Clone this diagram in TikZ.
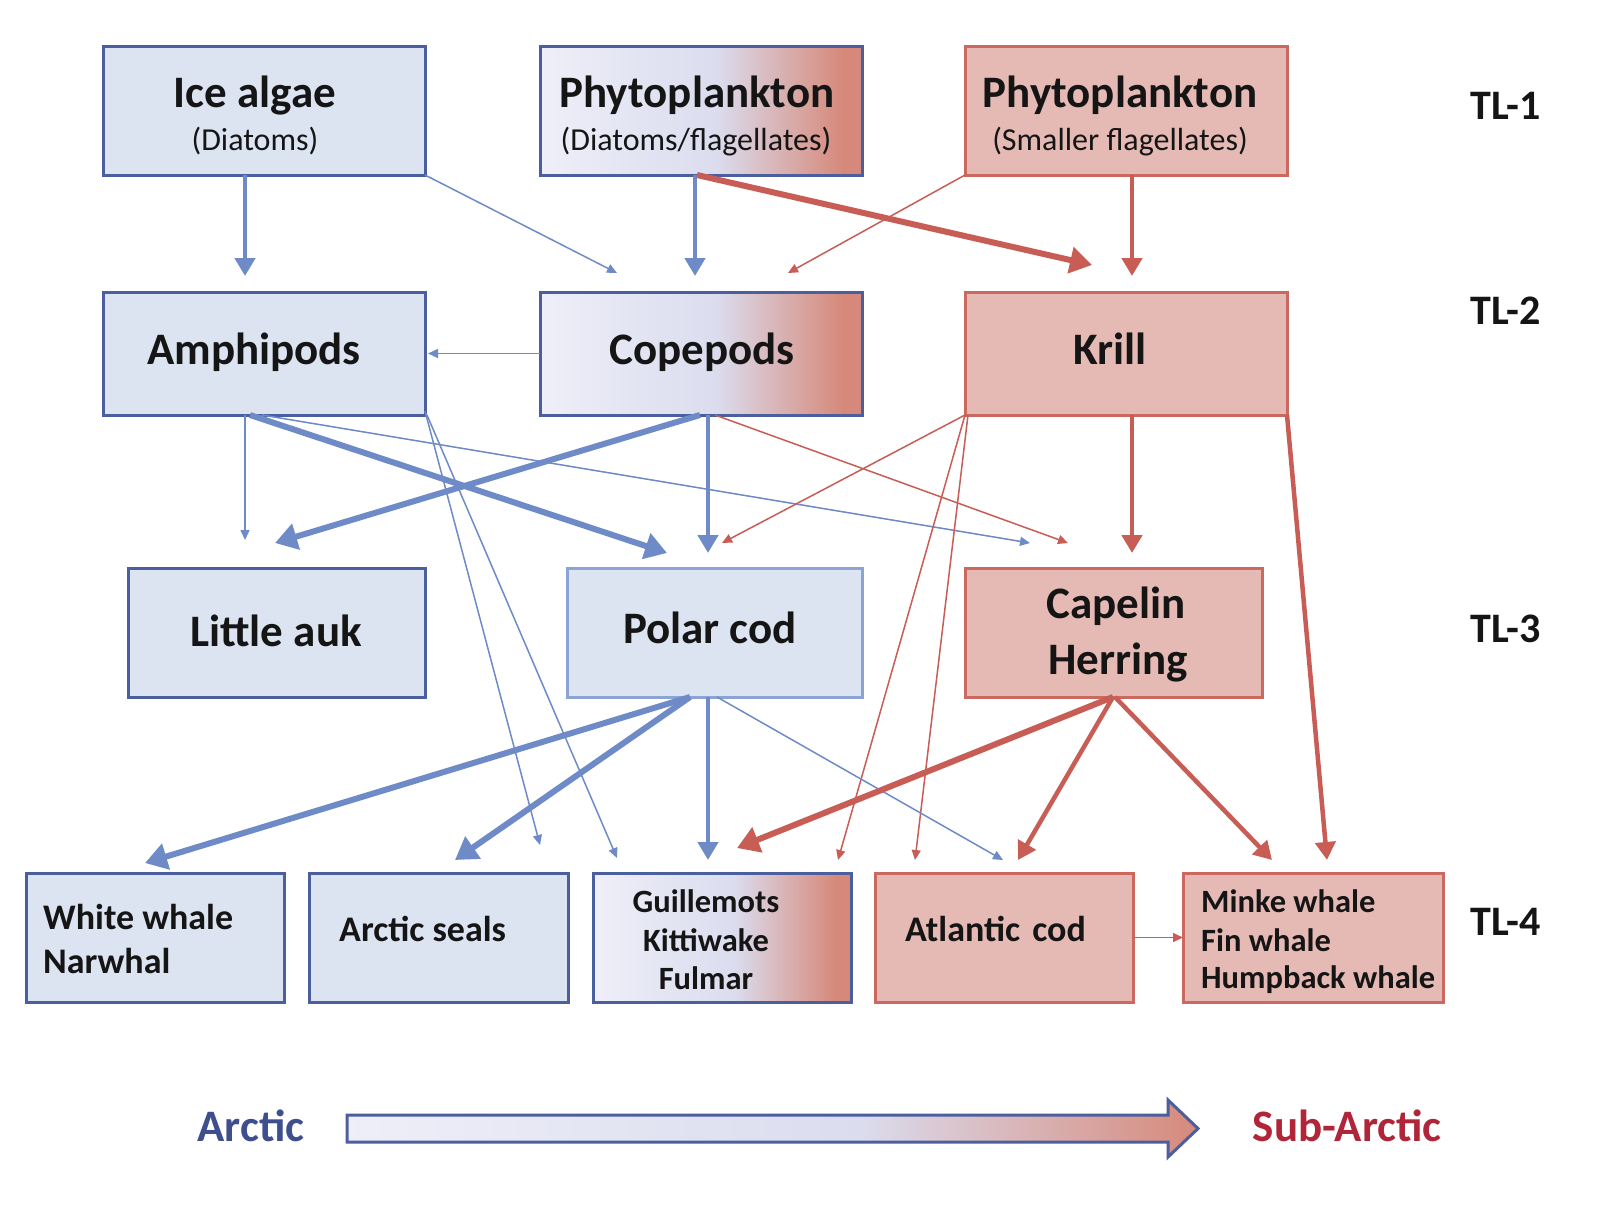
\documentclass[tikz,border=0pt]{standalone}
\usepackage{fontspec}
\setmainfont{Carlito}
\usetikzlibrary{arrows.meta,calc,backgrounds}

\definecolor{bfill}{HTML}{DCE3F1}
\definecolor{bline}{HTML}{4B5F9E}
\definecolor{bline2}{HTML}{8CA3D5}
\definecolor{barrow}{HTML}{6E8BC8}
\definecolor{rfill}{HTML}{E6BAB4}
\definecolor{rline}{HTML}{CB6860}
\definecolor{rarrow}{HTML}{C85D55}
\definecolor{gl}{HTML}{EEEFF8}
\definecolor{gm}{HTML}{DBDCEE}
\definecolor{gr}{HTML}{D6897A}
\definecolor{arcticc}{HTML}{3E4F8E}
\definecolor{subc}{HTML}{B02538}
\definecolor{txt}{HTML}{151515}

\tikzset{
  boxb/.style={draw=bline, fill=bfill, line width=3pt, inner sep=0pt, outer sep=0pt},
  boxr/.style={draw=rline, fill=rfill, line width=3pt, inner sep=0pt, outer sep=0pt},
  boxg/.style={draw=bline, line width=3pt, inner sep=0pt, outer sep=0pt},
  txtttl/.style={font=\fontsize{45}{54}\selectfont\bfseries, text=txt, anchor=base, inner sep=0pt},
  txtsub/.style={font=\fontsize{32}{38}\selectfont, text=txt, anchor=base, inner sep=0pt},
  txtsma/.style={font=\fontsize{36}{42}\selectfont\bfseries, text=txt, anchor=base west, inner sep=0pt},
  txtsmb/.style={font=\fontsize{32.5}{38}\selectfont\bfseries, text=txt, anchor=base, inner sep=0pt},
  txtsmbw/.style={txtsmb, anchor=base west},
  txttl/.style={font=\fontsize{42}{48}\selectfont\bfseries, text=txt, anchor=base, inner sep=0pt},
  bthin/.style={draw=barrow, line width=1.5pt, -{Triangle[length=10pt,width=9pt]}},
  bmed/.style={draw=barrow, line width=4.5pt, -{Triangle[length=18pt,width=20pt]}},
  bthick/.style={draw=barrow, line width=6pt, -{Triangle[length=22pt,width=26pt]}},
  rthin/.style={draw=rarrow, line width=1.5pt, -{Triangle[length=10pt,width=9pt]}},
  rmed/.style={draw=rarrow, line width=4.5pt, -{Triangle[length=18pt,width=20pt]}},
  rthick/.style={draw=rarrow, line width=6pt, -{Triangle[length=22pt,width=26pt]}},
}

\begin{document}
\begin{tikzpicture}[x=1pt,y=-1pt]
\useasboundingbox (0,0) rectangle (1600,1208);
\begin{scope}[on background layer]
  \fill[white] (0,0) rectangle (1600,1208);
\end{scope}

% ---- boxes ----
\node[boxb, minimum width=322pt, minimum height=129pt] (icealgae) at (264,110.5) {};
\node[boxg, minimum width=322pt, minimum height=129pt] (phytoA) at (701,110.5) {};
\node[boxr, minimum width=322pt, minimum height=129pt] (phytoB) at (1126,110.5) {};

\node[boxb, minimum width=322pt, minimum height=123pt] (amphipods) at (264,353.5) {};
\node[boxg, minimum width=322pt, minimum height=123pt] (copepods) at (701,353.5) {};
\node[boxr, minimum width=322pt, minimum height=123pt] (krill) at (1126,353.5) {};

\node[boxb, minimum width=297pt, minimum height=129pt] (littleauk) at (276.5,632.5) {};
\node[boxb, draw=bline2, minimum width=295pt, minimum height=129pt] (polarcod) at (714.5,632.5) {};
\node[boxr, minimum width=297pt, minimum height=129pt] (capelin) at (1113.5,632.5) {};

\node[boxb, minimum width=258pt, minimum height=129pt] (white) at (155,937.5) {};
\node[boxb, minimum width=259pt, minimum height=129pt] (seals) at (438.5,937.5) {};
\node[boxg, minimum width=258pt, minimum height=129pt] (guill) at (722,937.5) {};
\node[boxr, minimum width=258pt, minimum height=129pt] (atlcod) at (1004,937.5) {};
\node[boxr, minimum width=260pt, minimum height=129pt] (minke) at (1313,937.5) {};

% gradient fills of the mixed boxes (Arctic -> Sub-Arctic)
\begin{scope}[on background layer]
  \foreach \n in {phytoA,copepods,guill} {
    \shade[left color=gl, right color=gm] (\n.south west) rectangle ($(\n.north west)!0.55!(\n.north east)$);
    \shade[left color=gm, right color=gr] ($(\n.south west)!0.55!(\n.south east)$) rectangle ($(\n.north west)!0.94!(\n.north east)$);
    \fill[gr] ($(\n.south west)!0.94!(\n.south east)$) rectangle (\n.north east);
  }
\end{scope}

% ---- texts ----
\node[txtttl] (t-ice) at (255,107) {Ice algae};
\node[txtsub] (t-ice2) at (255,150) {(Diatoms)};
\node[txtttl] (t-pa) at (697,107) {Phytoplankton};
\node[txtsub] (t-pa2) at (696,150) {(Diatoms/flagellates)};
\node[txtttl] (t-pb) at (1120,107) {Phytoplankton};
\node[txtsub] (t-pb2) at (1120,150) {(Smaller flagellates)};

\node[txtttl] (t-amph) at (254,364) {Amphipods};
\node[txtttl] (t-cope) at (702,364) {Copepods};
\node[txtttl] (t-krill) at (1110,364) {Krill};

\node[txtttl] (t-auk) at (276,646) {Little auk};
\node[txtttl] (t-pc) at (710,643) {Polar cod};
\node[txtttl] (t-cap) at (1116,618) {Capelin};
\node[txtttl] (t-her) at (1118,674) {Herring};

\node[txtsma] (t-ww) at (43,929) {White whale};
\node[txtsma] (t-nar) at (43,973) {Narwhal};
\node[txtsma] (t-seal) at (339,941) {Arctic seals};
\node[txtsmb] (t-gu) at (706,912) {Guillemots};
\node[txtsmb] (t-ki) at (706,951) {Kittiwake};
\node[txtsmb] (t-fu) at (706,989) {Fulmar};
\node[txtsma] (t-ac) at (905,941) {Atlantic\hspace{4pt} cod};
\node[txtsmbw] (t-mi) at (1201,912) {Minke whale};
\node[txtsmbw] (t-fi) at (1201,951) {Fin whale};
\node[txtsmbw] (t-hu) at (1201,988) {Humpback whale};

\node[txttl] (tl1) at (1506,119) {TL-1};
\node[txttl] (tl2) at (1506,324) {TL-2};
\node[txttl] (tl3) at (1506,642) {TL-3};
\node[txttl] (tl4) at (1506,935) {TL-4};

\node[txtttl, text=arcticc] (arctic) at (251,1141) {Arctic};
\node[txtttl, text=subc] (subarctic) at (1347,1141) {Sub-Arctic};

% ---- connectors ----
\draw[bmed] ($(icealgae.south west)+(142,0)$) -- ($(amphipods.north west)+(142,-16)$);
\draw[bthin] (icealgae.south east) -- ($(copepods.north west)+(77,-19)$);
\draw[bmed] ($(phytoA.south west)+(155,0)$) -- ($(copepods.north west)+(155,-16)$);
\draw[rthick] ($(phytoA.south west)+(157,0)$) -- ($(krill.north west)+(127,-27)$);
\draw[rthin] (phytoB.south west) -- ($(copepods.north west)+(248,-19)$);
\draw[rmed] ($(phytoB.south west)+(167,0)$) -- ($(krill.north west)+(167,-16)$);

\draw[bthin] (copepods.west) -- ($(amphipods.east)+(3,0)$);
\draw[bthin] ($(amphipods.south west)+(142,0)$) -- ($(littleauk.north west)+(117,-28)$);
\draw[bthick] ($(amphipods.south west)+(147,0)$) -- ($(polarcod.north west)+(100,-15)$);
\draw[bthin] ($(amphipods.south west)+(159,0)$) -- ($(capelin.north west)+(65,-25)$);
\draw[bthin] ($(amphipods.south east)+(0,-4)$) -- ($(seals.north west)+(231,-28)$);
\draw[bthin] ($(amphipods.south east)+(2,0)$) -- ($(guill.north west)+(24,-15)$);
\draw[bthick] ($(copepods.south west)+(160,0)$) -- ($(littleauk.north west)+(147,-25)$);
\draw[bmed] ($(copepods.south west)+(168,0)$) -- ($(polarcod.north west)+(141,-15)$);
\draw[rthin] ($(copepods.south west)+(175,0)$) -- ($(capelin.north west)+(103,-25)$);
\draw[rthin] (krill.south west) -- ($(polarcod.north west)+(155,-25)$);
\draw[rmed] ($(krill.south west)+(167,0)$) -- ($(capelin.north west)+(167,-15)$);
\draw[rthin] (krill.south west) -- ($(guill.north west)+(245,-13)$);
\draw[rthin] ($(krill.south west)+(3,0)$) -- ($(atlcod.north west)+(40,-13)$);
\draw[rmed] (krill.south east) -- ($(minke.north west)+(144,-13)$);

\draw[bthick] ($(polarcod.south west)+(123,0)$) -- ($(white.north west)+(119,-10)$);
\draw[bthick] ($(polarcod.south west)+(123,0)$) -- ($(seals.north west)+(146,-13)$);
\draw[bmed] ($(polarcod.south west)+(141,0)$) -- ($(guill.north west)+(115,-13)$);
\draw[bthin] ($(polarcod.south west)+(150,0)$) -- ($(atlcod.north west)+(128,-13)$);
\draw[rthick] ($(capelin.south west)+(148,0)$) -- ($(guill.north west)+(144,-25)$);
\draw[rmed] ($(capelin.south west)+(148,0)$) -- ($(atlcod.north west)+(143,-13)$);
\draw[rmed] ($(capelin.south west)+(150,0)$) -- ($(minke.north west)+(89,-13)$);
\draw[rthin] (atlcod.east) -- (minke.west);

% ---- Arctic -> Sub-Arctic gradient arrow ----
\begin{scope}
  \clip (347,1115) -- (1168,1115) -- (1168,1100) -- (1198,1128.5) -- (1168,1157) -- (1168,1142) -- (347,1142) -- cycle;
  \shade[left color=gl, right color=gm] (340,1095) rectangle (860,1165);
  \shade[left color=gm, right color=gr] (860,1095) rectangle (1200,1165);
\end{scope}
\draw[bline, line width=3pt, line join=miter] (347,1115) -- (1168,1115) -- (1168,1100) -- (1198,1128.5) -- (1168,1157) -- (1168,1142) -- (347,1142) -- cycle;
\end{tikzpicture}
\end{document}
